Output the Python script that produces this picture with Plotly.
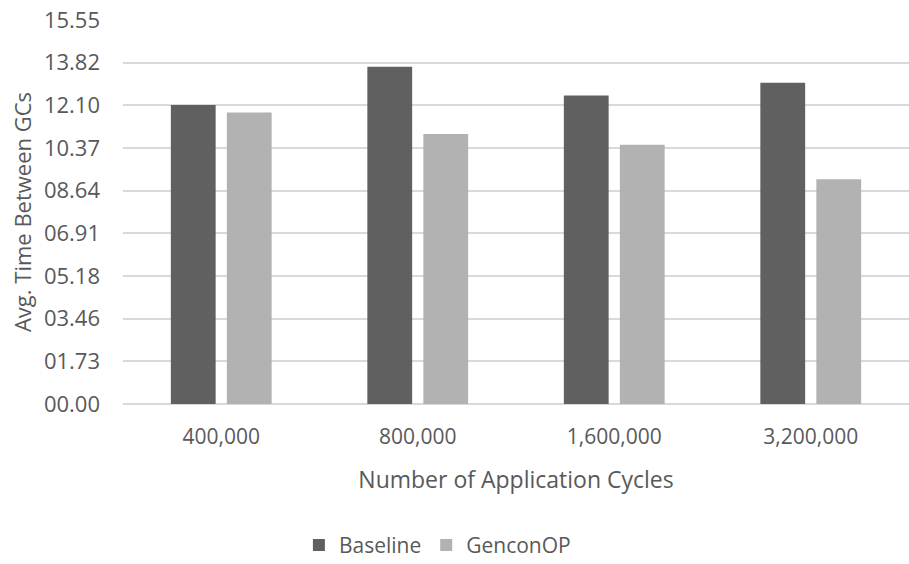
import plotly.graph_objects as go

# Data
categories = ["400,000", "800,000", "1,600,000", "3,200,000"]
baseline = [12.11, 13.66, 12.49, 13.01]
genconop = [11.81, 10.94, 10.50, 9.10]
tick_step = 1.728
tick_count = 10
tick_vals = [i * tick_step for i in range(tick_count)]
tick_text = ["%05.2f" % v for v in tick_vals]

text_color = "#595959"
font_family = "Open Sans, Noto Sans, sans-serif"

fig = go.Figure()
fig.add_trace(go.Bar(name="Baseline", x=categories, y=baseline,
                     marker=dict(color="#606060", line=dict(width=0))))
fig.add_trace(go.Bar(name="GenconOP", x=categories, y=genconop,
                     marker=dict(color="#b2b2b2", line=dict(width=0))))

fig.update_layout(
    width=909, height=564,
    margin=dict(l=123, r=0, t=20, b=160, autoexpand=False),
    paper_bgcolor="white", plot_bgcolor="white",
    barmode="group", bargap=0.43, bargroupgap=0.2,
    font=dict(family=font_family, color=text_color, size=21),
    showlegend=True,
    legend=dict(orientation="h", xref="paper", x=0.40, xanchor="center",
                yref="paper", y=-0.368, yanchor="middle",
                font=dict(size=21, color=text_color),
                itemwidth=30, traceorder="normal"),
)

fig.update_xaxes(
    showline=False, showgrid=False, ticks="",
    tickfont=dict(size=21, color=text_color),
    tickangle=0,
    ticklabelstandoff=18,
    title=dict(text="Number of Application Cycles",
               font=dict(size=23, color=text_color), standoff=22),
)
fig.update_yaxes(
    range=[0, tick_vals[-1]], tickvals=tick_vals, ticktext=tick_text,
    showgrid=True, gridcolor="#d9d9d9", gridwidth=1.5,
    zeroline=True, zerolinecolor="#d9d9d9", zerolinewidth=1.5,
    showline=False, ticks="",
    tickfont=dict(size=22, color=text_color),
    ticklabelstandoff=22,
    title=dict(text="Avg. Time Between GCs",
               font=dict(size=22, color=text_color), standoff=6),
)

fig.write_html("out.html")
